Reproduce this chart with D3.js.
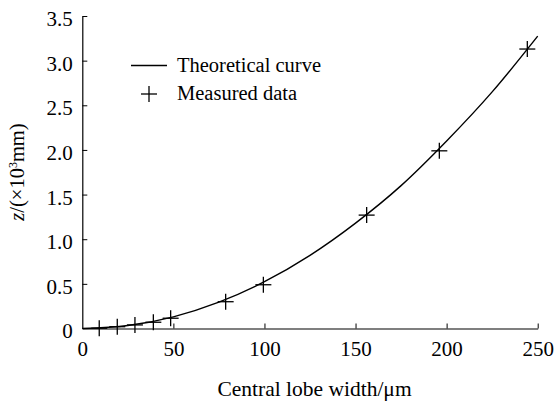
<!DOCTYPE html>
<html><head><meta charset="utf-8">
<script src="https://cdn.jsdelivr.net/npm/d3@7"></script>
<style>body{margin:0;background:#fff}svg{display:block}text{font-family:"Liberation Serif","Times New Roman",serif;fill:#000}</style>
</head><body><svg id="c" width="560" height="403"></svg>
<script>
// Measured data (central lobe width in µm, z in 10^3 mm)
const measuredX = [9.3, 19.2, 28.9, 39.0, 48.5, 78.7, 99.4, 156.1, 196.0, 244.3];
const measuredZ = [0.003, 0.02, 0.04, 0.07, 0.115, 0.30, 0.49, 1.27, 1.99, 3.13];
// Theoretical curve points
const curveX = [0, 25, 50, 75, 100, 125, 150, 175, 200, 225, 250];
const curveZ = [0, 0.033, 0.131, 0.295, 0.524, 0.819, 1.18, 1.60, 2.10, 2.65, 3.275];
const xTicks = [0, 50, 100, 150, 200, 250];
const yTicks = [0, 0.5, 1.0, 1.5, 2.0, 2.5, 3.0, 3.5];
const yTickLabels = ["0", "0.5", "1.0", "1.5", "2.0", "2.5", "3.0", "3.5"];

const svg = d3.select("#c");
const x = d3.scaleLinear().domain([0, 250]).range([82.3, 537.7]);
const y = d3.scaleLinear().domain([0, 3.5]).range([328.5, 16]);
const fs = 20.5;
const tfs = 21;
const serif = "Liberation Serif";

// axes
const xAxis = svg.append("g").attr("transform", `translate(0,${y(0)})`)
  .call(d3.axisBottom(x).tickValues(xTicks).tickSizeInner(-5).tickSizeOuter(0).tickPadding(8).tickFormat(d3.format("d")));
const yAxis = svg.append("g").attr("transform", `translate(${x(0)},0)`)
  .call(d3.axisLeft(y).tickValues(yTicks).tickSizeInner(-5).tickSizeOuter(0).tickPadding(9.5).tickFormat((d,i)=>yTickLabels[i]));
[xAxis, yAxis].forEach(g => {
  g.attr("font-family", serif).attr("font-size", tfs);
  g.selectAll("path.domain").attr("stroke", "#000").attr("stroke-width", 1.2);
  g.selectAll(".tick line").attr("stroke", "#000").attr("stroke-width", 1);
  g.selectAll(".tick text").attr("font-family", serif).attr("font-size", tfs).attr("fill", "#000");
});
xAxis.selectAll(".tick text").attr("dy", "0.71em").attr("y", 12.5);
yAxis.selectAll(".tick text").attr("dy", "0.45em");
xAxis.selectAll(".tick").filter(d => d === 0).select("line").remove();
yAxis.selectAll(".tick").filter(d => d === 0).select("line").remove();

// curve
const line = d3.line().x(d => x(d[0])).y(d => y(d[1])).curve(d3.curveMonotoneX);
svg.append("path").datum(curveX.map((v, i) => [v, curveZ[i]]))
  .attr("d", line).attr("fill", "none").attr("stroke", "#000").attr("stroke-width", 1.4);

// measured crosses
const cs = 8;
const pts = svg.append("g").selectAll("g").data(measuredX.map((v, i) => [v, measuredZ[i]])).join("g")
  .attr("transform", d => `translate(${x(d[0])},${y(d[1])})`);
pts.append("line").attr("x1", -cs).attr("x2", cs).attr("stroke", "#000").attr("stroke-width", 1.3);
pts.append("line").attr("y1", -cs).attr("y2", cs).attr("stroke", "#000").attr("stroke-width", 1.3);

// legend
const lg = svg.append("g").attr("font-family", serif).attr("font-size", fs);
lg.append("line").attr("x1", 131).attr("x2", 167).attr("y1", 65.5).attr("y2", 65.5).attr("stroke", "#000").attr("stroke-width", 1.4);
lg.append("text").attr("x", 177).attr("y", 72).text("Theoretical curve");
lg.append("line").attr("x1", 141).attr("x2", 157).attr("y1", 94).attr("y2", 94).attr("stroke", "#000").attr("stroke-width", 1.3);
lg.append("line").attr("x1", 149).attr("x2", 149).attr("y1", 86).attr("y2", 102).attr("stroke", "#000").attr("stroke-width", 1.3);
lg.append("text").attr("x", 177).attr("y", 100).text("Measured data");

// axis titles
svg.append("text").attr("x", 314.5).attr("y", 396).attr("text-anchor", "middle")
  .attr("font-family", serif).attr("font-size", 21.5).text("Central lobe width/\u03bcm");
const yt = svg.append("text").attr("transform", `translate(24,172) rotate(-90)`).attr("text-anchor", "middle")
  .attr("font-family", serif).attr("font-size", fs);
yt.append("tspan").attr("font-style", "italic").text("z");
yt.append("tspan").text("/(\u00d710");
yt.append("tspan").attr("dy", -7).attr("font-size", 12).text("3");
yt.append("tspan").attr("dy", 7).text("mm)");
</script></body></html>
